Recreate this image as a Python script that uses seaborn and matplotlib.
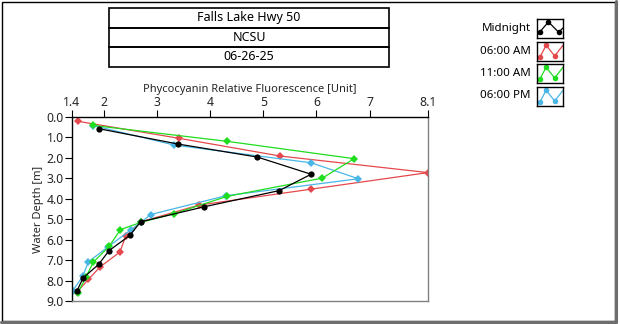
import numpy as np
import pandas as pd
import seaborn as sns
import matplotlib
matplotlib.use("Agg")
import matplotlib.pyplot as plt
from matplotlib.patches import Rectangle
from matplotlib.lines import Line2D

# ---- data ----
series_names = ["Midnight", "06:00 AM", "11:00 AM", "06:00 PM"]

depth_midnight = [0.57, 1.32, 1.96, 2.80, 3.60, 4.39, 5.13, 5.79, 6.53, 7.21, 7.87, 8.52]
pc_midnight = [1.90, 3.39, 4.89, 5.90, 5.30, 3.89, 2.69, 2.49, 2.10, 1.90, 1.61, 1.49]

depth_0600am = [0.21, 1.04, 1.91, 2.72, 3.53, 4.31, 5.13, 5.84, 6.61, 7.33, 7.94, 8.55]
pc_0600am = [1.51, 3.41, 5.32, 8.10, 5.90, 3.79, 2.69, 2.41, 2.30, 1.93, 1.71, 1.50]

depth_1100am = [0.41, 1.19, 2.04, 2.99, 3.88, 4.73, 5.15, 5.51, 6.33, 7.10, 7.85, 8.60]
pc_1100am = [1.79, 4.32, 6.71, 6.11, 4.32, 3.32, 2.70, 2.31, 2.10, 1.80, 1.66, 1.51]

depth_0600pm = [0.42, 1.37, 2.24, 3.02, 3.85, 4.77, 5.15, 5.51, 6.35, 7.08, 7.80, 8.51]
pc_0600pm = [1.80, 3.32, 5.90, 6.79, 4.30, 2.88, 2.70, 2.51, 2.08, 1.71, 1.60, 1.41]

x_ticks = [1.4, 2, 3, 4, 5, 6, 7, 8.1]
x_ticklabels = ["1.4", "2", "3", "4", "5", "6", "7", "8.1"]
y_ticks = [0, 1, 2, 3, 4, 5, 6, 7, 8, 9]
y_ticklabels = ["0.0", "1.0", "2.0", "3.0", "4.0", "5.0", "6.0", "7.0", "8.0", "9.0"]

title_lines = ["Falls Lake Hwy 50", "NCSU", "06-26-25"]

colors = {"Midnight": "#000000", "06:00 AM": "#E5484D",
          "11:00 AM": "#1FDD1F", "06:00 PM": "#4AB6E6"}
markers = {"Midnight": "o", "06:00 AM": "D", "11:00 AM": "D", "06:00 PM": "D"}

frames = []
for name, d, v in [("Midnight", depth_midnight, pc_midnight),
                   ("06:00 AM", depth_0600am, pc_0600am),
                   ("11:00 AM", depth_1100am, pc_1100am),
                   ("06:00 PM", depth_0600pm, pc_0600pm)]:
    frames.append(pd.DataFrame({"series": name, "depth": d, "pc": v}))
df = pd.concat(frames, ignore_index=True)

sns.set_theme(style="white")
plt.rcParams["font.family"] = ["Noto Sans", "DejaVu Sans"]

W, H = 620, 324
fig = plt.figure(figsize=(6.2, 3.24), dpi=100)
fig.patch.set_facecolor("white")

ax = fig.add_axes([72 / W, 1 - 301 / H, (428 - 72) / W, (301 - 117) / H])

draw_order = ["06:00 AM", "06:00 PM", "11:00 AM", "Midnight"]
for name in draw_order:
    sub = df[df["series"] == name]
    sns.lineplot(data=sub, x="pc", y="depth", sort=False, estimator=None,
                 color=colors[name], marker=markers[name],
                 markersize=4.5 if name == "Midnight" else 4,
                 markeredgewidth=0, linewidth=0.9, ax=ax, legend=False)

ax.set_xlim(1.4, 8.1)
ax.set_ylim(9, 0)
ax.xaxis.tick_top()
ax.xaxis.set_label_position("top")
ax.set_xticks(x_ticks)
ax.set_xticklabels(x_ticklabels)
ax.set_yticks(y_ticks)
ax.set_yticklabels(y_ticklabels)
ax.set_xlabel("Phycocyanin Relative Fluorescence [Unit]", fontsize=8, labelpad=3)
ax.set_ylabel("Water Depth [m]", fontsize=8, labelpad=2)
ax.tick_params(axis="both", which="both", direction="out", length=5, width=0.8,
               color="black", labelsize=8.8, pad=1)
ax.tick_params(axis="x", top=True, bottom=False)
ax.tick_params(axis="y", left=True, right=False)
for s in ["left", "top"]:
    ax.spines[s].set_color("black")
    ax.spines[s].set_linewidth(1.0)
for s in ["right", "bottom"]:
    ax.spines[s].set_color("#808080")
    ax.spines[s].set_linewidth(1.0)
ax.grid(False)

# ---- title boxes ----
box_x0, box_x1 = 109, 389
row_edges = [8, 28, 47, 67]
for i, txt in enumerate(title_lines):
    y0, y1 = row_edges[i], row_edges[i + 1]
    fig.patches.append(Rectangle((box_x0 / W, 1 - y1 / H), (box_x1 - box_x0) / W, (y1 - y0) / H,
                                 transform=fig.transFigure, fill=False,
                                 edgecolor="black", linewidth=1.2))
    fig.text((box_x0 + box_x1) / 2 / W, 1 - (y0 + y1) / 2 / H, txt,
             ha="center", va="center", fontsize=9, color="black")

# ---- legend ----
leg_centers = [28, 51, 73, 96]
for name, yc in zip(series_names, leg_centers):
    fig.text(531 / W, 1 - yc / H, name, ha="right", va="center", fontsize=8.3, color="black")
    iax = fig.add_axes([537 / W, 1 - (yc + 9.5) / H, 26 / W, 19 / H])
    iax.set_xlim(0, 1)
    iax.set_ylim(0, 1)
    iax.set_xticks([])
    iax.set_yticks([])
    for s in iax.spines.values():
        s.set_color("black")
        s.set_linewidth(1.0)
    if name == "Midnight":
        px = [0.0, 0.1, 0.44, 0.83, 1.0]
        py = [0.1, 0.28, 0.82, 0.28, 0.5]
    else:
        px = [0.0, 0.12, 0.35, 0.68, 1.0]
        py = [0.0, 0.2, 0.8, 0.24, 0.8]
    iax.add_line(Line2D(px, py, color=colors[name], linewidth=0.9))
    iax.add_line(Line2D(px[1:4], py[1:4], color=colors[name], linestyle="none",
                        marker="o", markersize=4, markeredgewidth=0))

# ---- figure frame ----
fig.patches.append(Rectangle((1.5 / W, 1 - 321 / H), 613 / W, 319.5 / H,
                             transform=fig.transFigure, fill=False,
                             edgecolor="black", linewidth=1.0))
fig.lines.append(Line2D([1 / W, 616 / W], [1 - 322 / H, 1 - 322 / H],
                        transform=fig.transFigure, color="#6e6e6e", linewidth=2.2))
fig.lines.append(Line2D([615.5 / W, 615.5 / W], [1 - 322 / H, 1 - 1 / H],
                        transform=fig.transFigure, color="#6e6e6e", linewidth=2.2))

fig.savefig("out.png", dpi=100)
